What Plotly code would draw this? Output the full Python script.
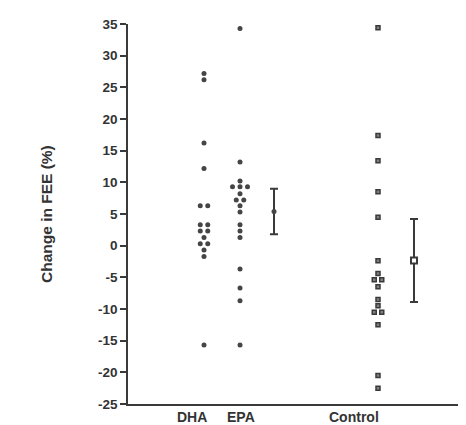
import plotly.graph_objects as go
from collections import Counter

# ---- data ----
groups = ["DHA", "EPA", "Control"]
dha_values = [27.2, 26.2, 16.2, 12.2, 6.3, 6.3, 3.3, 3.3, 2.3, 2.3, 1.3,
              0.3, 0.3, -0.7, -1.7, -15.7]
epa_values = [34.3, 13.2, 10.2, 9.3, 9.3, 9.3, 8.2, 7.2, 7.2, 6.3, 5.3,
              3.3, 2.3, 1.3, -3.7, -6.7, -8.7, -15.7]
control_values = [34.4, 17.4, 13.4, 8.5, 4.5, -2.4, -4.4, -5.4, -5.4, -6.5,
                  -8.5, -9.5, -10.5, -10.5, -12.5, -20.5, -22.5]
epa_mean, epa_err = 5.4, 3.6
control_mean, control_err = -2.35, 6.55
y_ticks = [35, 30, 25, 20, 15, 10, 5, 0, -5, -10, -15, -20, -25]

# ---- layout constants (x positions in axis units) ----
POS = {"DHA": 196, "EPA": 232, "Control": 370}
ERR_POS = {"EPA": 266, "Control": 406}
LABEL_POS = {"DHA": 184, "EPA": 233, "Control": 346}
SPREAD = 7.5
FONT = "Arial, Liberation Sans"


def spread(values, center):
    counts = Counter(values)
    seen = Counter()
    xs = []
    for v in values:
        n = counts[v]
        i = seen[v]
        seen[v] += 1
        xs.append(center + (i - (n - 1) / 2) * SPREAD)
    return xs


fig = go.Figure()
dot = dict(symbol="circle", size=5, color="#454545")
fig.add_trace(go.Scatter(x=spread(dha_values, POS["DHA"]), y=dha_values,
                         mode="markers", marker=dot, showlegend=False))
fig.add_trace(go.Scatter(x=spread(epa_values, POS["EPA"]), y=epa_values,
                         mode="markers", marker=dot, showlegend=False))
fig.add_trace(go.Scatter(x=spread(control_values, POS["Control"]), y=control_values,
                         mode="markers",
                         marker=dict(symbol="square", size=4, color="#808080",
                                     line=dict(color="#3a3a3a", width=1.5)),
                         showlegend=False))
# mean +/- error bars
fig.add_trace(go.Scatter(x=[ERR_POS["EPA"]], y=[epa_mean], mode="markers",
                         marker=dict(symbol="circle", size=5, color="#454545"),
                         error_y=dict(type="constant", value=epa_err, color="#3a3a3a",
                                      thickness=2, width=4),
                         showlegend=False))
fig.add_trace(go.Scatter(x=[ERR_POS["Control"]], y=[control_mean], mode="markers",
                         marker=dict(symbol="square", size=6, color="white",
                                     line=dict(color="#3a3a3a", width=2)),
                         error_y=dict(type="constant", value=control_err, color="#3a3a3a",
                                      thickness=2, width=4),
                         showlegend=False))

for g in groups:
    fig.add_annotation(x=LABEL_POS[g], xref="x", y=0, yref="paper", yshift=-13,
                       text=f"<b>{g}</b>", showarrow=False, yanchor="middle",
                       font=dict(family=FONT, size=14, color="#333"))

fig.add_annotation(x=0, xref="paper", y=0.5, yref="paper", xshift=-82,
                   text="<b>Change in FEE (%)</b>", textangle=-90, showarrow=False,
                   xanchor="center", yanchor="middle",
                   font=dict(family=FONT, size=15.5, color="#333"))

fig.update_layout(
    width=466, height=425,
    margin=dict(l=120, r=4, t=16, b=29),
    paper_bgcolor="white", plot_bgcolor="white",
    xaxis=dict(range=[120, 462], showticklabels=False, ticks="", showgrid=False,
               zeroline=False, showline=True, linecolor="#3a3a3a", linewidth=2),
    yaxis=dict(range=[-25, 35], tickvals=y_ticks,
               ticktext=[f"<b>{t}</b>" for t in y_ticks],
               ticks="outside", ticklen=6, tickwidth=1.5, tickcolor="#3a3a3a",
               showgrid=False, zeroline=False, showline=True,
               linecolor="#3a3a3a", linewidth=1.5,
               tickfont=dict(family=FONT, size=13.5, color="#333")),
)

fig.write_html("out.html")
